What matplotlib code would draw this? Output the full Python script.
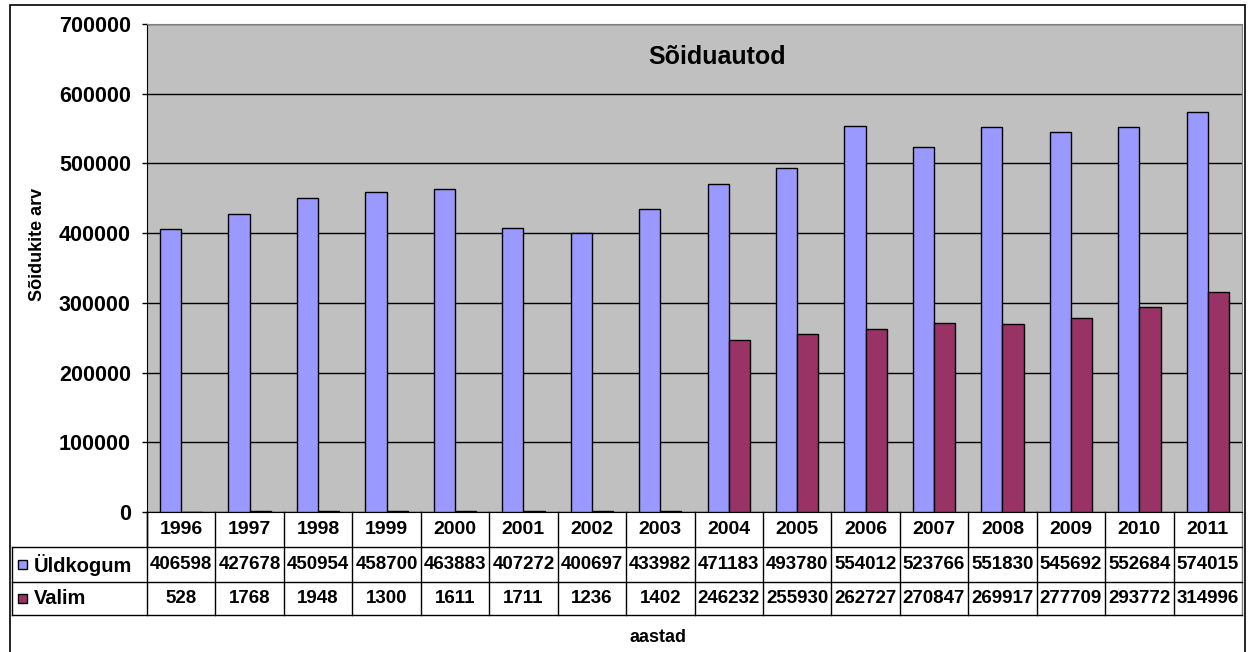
import matplotlib
import matplotlib.pyplot as plt
from matplotlib.patches import Rectangle
import numpy as np

matplotlib.use("Agg")

years = [str(y) for y in range(1996, 2012)]
uldkogum = [406598, 427678, 450954, 458700, 463883, 407272, 400697, 433982,
            471183, 493780, 554012, 523766, 551830, 545692, 552684, 574015]
valim = [528, 1768, 1948, 1300, 1611, 1711, 1236, 1402,
         246232, 255930, 262727, 270847, 269917, 277709, 293772, 314996]
series_names = ["Üldkogum", "Valim"]
colors = ["#9999FF", "#993366"]

plt.rcParams["font.family"] = ["Liberation Sans", "DejaVu Sans"]
plt.rcParams["font.weight"] = "bold"

W, H = 1252, 652
fig = plt.figure(figsize=(W / 100, H / 100), dpi=100)

# plot area in pixels
left, right, top, bottom = 147, 1242, 24, 512
ax = fig.add_axes([left / W, 1 - bottom / H, (right - left) / W, (bottom - top) / H])
ax.set_facecolor("#C0C0C0")

x = np.arange(len(years))
bw = 0.31
ax.bar(x - bw / 2, uldkogum, bw, color=colors[0], edgecolor="black", linewidth=1, zorder=3)
ax.bar(x + bw / 2, valim, bw, color=colors[1], edgecolor="black", linewidth=1, zorder=3)

ax.set_xlim(-0.5, len(years) - 0.5)
ax.set_ylim(0, 700000)
ax.set_yticks(np.arange(0, 700001, 100000))
ax.set_yticklabels([str(v) for v in range(0, 700001, 100000)], fontsize=15.5, fontweight="bold")
ax.yaxis.grid(True, color="black", linewidth=1, zorder=1)
ax.set_xticks([])
ax.tick_params(axis="y", length=3.6, width=1, pad=8)
for s in ["top", "right"]:
    ax.spines[s].set_color("#808080")
ax.spines["left"].set_color("black")
ax.spines["bottom"].set_color("black")

ax.text(0.521, 0.932, "Sõiduautod", transform=ax.transAxes, ha="center", va="center",
        fontsize=18, fontweight="bold")

fig.text(37 / W, 1 - 244 / H, "Sõidukite arv", rotation=90, ha="center", va="center",
         fontsize=13, fontweight="bold")
fig.text(658 / W, 1 - 638 / H, "aastad", ha="center", va="center",
         fontsize=13, fontweight="bold")

# data table below the plot
ph = bottom - top
rows_px = [512, 547, 582, 615]
ry = [(bottom - r) / ph for r in rows_px]
lab_left = (12 - left) / (right - left)
n = len(years)
tr = ax.transAxes
lk = dict(transform=tr, color="black", linewidth=1, clip_on=False)
ax.plot([0, 0], [ry[0], ry[1]], **lk)
ax.plot([1, 1], [ry[0], ry[3]], color="#808080", linewidth=1, transform=tr, clip_on=False)
for yv in ry[1:]:
    ax.plot([lab_left, 1], [yv, yv], **lk)
ax.plot([lab_left, lab_left], [ry[1], ry[3]], **lk)
for i in range(n):
    ax.plot([i / n, i / n], [ry[0], ry[3]], **lk)

for i, yr in enumerate(years):
    cx = (i + 0.5) / n
    ax.text(cx, (ry[0] + ry[1]) / 2, yr, transform=tr, ha="center", va="center",
            fontsize=14, fontweight="bold")
    ax.text(cx, (ry[1] + ry[2]) / 2, str(uldkogum[i]), transform=tr, ha="center",
            va="center", fontsize=13.5, fontweight="bold")
    ax.text(cx, (ry[2] + ry[3]) / 2, str(valim[i]), transform=tr, ha="center",
            va="center", fontsize=13.5, fontweight="bold")

key_w = 9 / (right - left)
key_h = 9 / ph
for k, (name, col) in enumerate(zip(series_names, colors)):
    yc = (ry[k + 1] + ry[k + 2]) / 2
    ax.add_patch(Rectangle((lab_left + 6 / (right - left), yc - key_h / 2), key_w, key_h,
                           transform=tr, facecolor=col, edgecolor="black", linewidth=1,
                           clip_on=False))
    ax.text(lab_left + 22 / (right - left), yc, name, transform=tr, ha="left", va="center",
            fontsize=14.5, fontweight="bold")

# outer chart frame
fig.add_artist(Rectangle((10 / W, -0.01), (1245 - 10) / W, 1 - 5 / H + 0.01,
                         transform=fig.transFigure, facecolor="none", edgecolor="black",
                         linewidth=1.2))

fig.savefig("out.png", dpi=100)
